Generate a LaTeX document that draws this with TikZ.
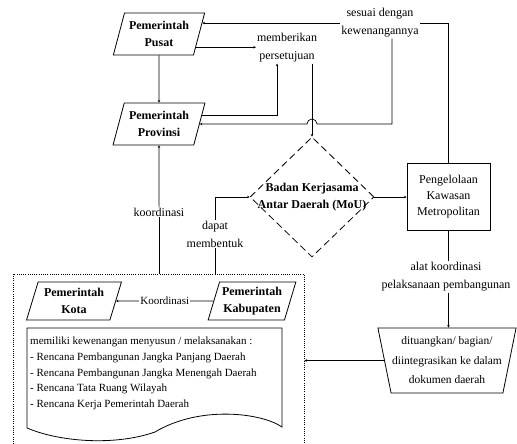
\documentclass[tikz,border=0pt]{standalone}
\usepackage{fontspec}
\setmainfont{Liberation Serif}
\usetikzlibrary{arrows.meta,calc,shapes.geometric}
\tikzset{
  govnode/.style={trapezium, trapezium left angle=70, trapezium right angle=110,
    trapezium stretches=true, draw, line width=0.8pt, minimum width=92pt,
    minimum height=42pt, inner sep=1pt, align=center,
    font=\fontsize{12}{17}\selectfont\bfseries},
  moushape/.style={diamond, draw, line width=0.8pt, dash pattern=on 7pt off 4pt,
    minimum width=124pt, minimum height=120pt, inner sep=0pt},
  moutext/.style={align=center, inner sep=0pt, font=\fontsize{12}{16.5}\selectfont\bfseries},
  mgmtbox/.style={draw, line width=0.8pt, minimum width=83pt, minimum height=67pt,
    align=center, font=\fontsize{12}{16}\selectfont},
  plandoc/.style={trapezium, trapezium left angle=105, trapezium right angle=105,
    trapezium stretches=true, draw, line width=0.8pt, minimum width=138pt,
    minimum height=65pt, inner sep=1pt, align=center,
    font=\fontsize{11.5}{19.5}\selectfont},
  areabox/.style={draw, line width=0.8pt, dash pattern=on 1pt off 1.2pt,
    minimum width=291pt, minimum height=186pt, inner sep=0pt},
  doclines/.style={line width=0.8pt},
  linklabel/.style={fill=white, inner sep=1pt, align=center,
    font=\fontsize{12}{18}\selectfont},
  link/.style={line width=0.7pt},
  linkarrow/.style={link, -{Stealth[length=2.5pt, width=2.5pt]}},
}

\begin{document}
\begin{tikzpicture}[x=1pt, y=-1pt]
  \useasboundingbox (0,0) rectangle (517,444);
  \clip (0,0) rectangle (517,444);
  % government levels
  \node[govnode] (pusat) at (159,34) {Pemerintah\\Pusat};
  \node[govnode] (prov) at (159,124) {Pemerintah\\Provinsi};
  % cooperation body, metropolitan management, regional documents
  \node[moushape] (badan) at (312,197) {};
  \node[moutext] (badantext) at (badan) {Badan Kerjasama\\Antar Daerah (MoU)};
  \node[mgmtbox] (kelola) at (448.5,196.5) {Pengelolaan\\Kawasan\\Metropolitan};
  \node[plandoc] (dokumen) at (447,360.5)
    {dituangkan/ bagian/\\diintegrasikan ke dalam\\dokumen daerah};
  % local governments (dotted area)
  \node[areabox] (daerah) at (158.5,367) {};
  \node[govnode, minimum width=95pt, minimum height=38pt] (kota) at (74,301)
    {Pemerintah\\Kota};
  \node[govnode, minimum width=88pt, minimum height=38pt] (kab) at (252,301)
    {Pemerintah\\Kabupaten};
  \draw[doclines] (27,328) -- (282,328) -- (282,427)
    .. controls (262,413) and (200,405) .. (155,432)
    .. controls (115,446) and (60,442) .. (27,428) -- cycle;
  \node[anchor=north west, align=left, inner sep=0pt,
        font=\fontsize{11}{15.7}\selectfont] (tugas) at (30,337)
    {memiliki kewenangan menyusun / melaksanakan :\\
     - Rencana Pembangunan Jangka Panjang Daerah\\
     - Rencana Pembangunan Jangka Menengah Daerah\\
     - Rencana Tata Ruang Wilayah\\
     - Rencana Kerja Pemerintah Daerah};
  % connector labels
  \node[linklabel] (sesuai) at (380,23) {sesuai dengan\\kewenangannya};
  \node[linklabel] (setuju) at (287,48) {memberikan\\persetujuan};
  \node[linklabel] (koord) at (159,212) {koordinasi};
  \node[linklabel] (dapat) at (215,234) {dapat\\membentuk};
  \node[linklabel] (alat) at (446,277) {alat koordinasi\\pelaksanaan pembangunan};
  % points on the slanted sides
  \coordinate (pusatA) at ($(pusat.top right corner)!0.24!(pusat.bottom right corner)$);
  \coordinate (pusatB) at ($(pusat.top right corner)!0.81!(pusat.bottom right corner)$);
  \coordinate (provA) at ($(prov.top right corner)!0.29!(prov.bottom right corner)$);
  % connectors
  \draw[linkarrow] (pusat.south) -- (prov.north);
  \draw[link] (kelola.north) |- (sesuai.east);
  \draw[linkarrow] (sesuai.west) -- (sesuai.west -| pusatA);
  \draw[linkarrow] ([xshift=12pt]sesuai.south)
    |- ($(badan.north |- prov.east)+(5pt,0)$)
    arc[start angle=0, end angle=180, radius=5pt] -- (prov.east);
  \draw[linkarrow] (pusatB) -- (pusatB -| setuju.west);
  \draw[linkarrow] (provA) -| ([xshift=-10pt]setuju.south);
  \draw[linkarrow] (setuju.south -| badan.north) -- (badan.north);
  \draw[linkarrow] (badan.east) -- (badan.east -| kelola.west);
  \draw[link] (kelola.south) -- (alat.north -| kelola.south);
  \draw[linkarrow] (alat.south -| kelola.south) -- (dokumen.north -| kelola.south);
  \draw[linkarrow] (dokumen.west) -- (dokumen.west -| daerah.east);
  \draw[linkarrow] (koord.north) -- (prov.south);
  \draw[link] (koord.south) -- (koord.south |- daerah.north);
  \draw[link] (daerah.north -| dapat.south) -- (dapat.south);
  \draw[linkarrow] (dapat.north) |- (badan.west);
  \draw[linkarrow] (kab.west) -- (kota.east)
    node[midway, linklabel, font=\fontsize{11}{13}\selectfont] (koordkk) {Koordinasi};
\end{tikzpicture}
\end{document}
